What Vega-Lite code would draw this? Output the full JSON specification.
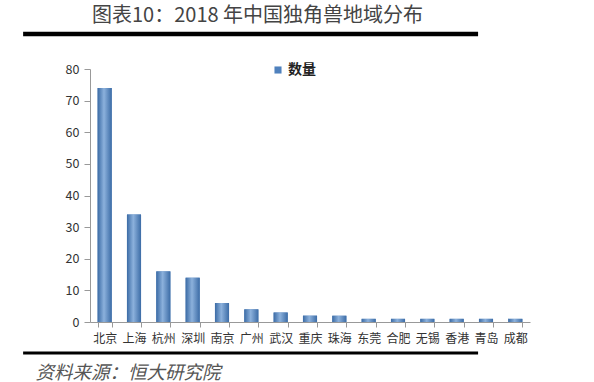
{
  "$schema": "https://vega.github.io/schema/vega-lite/v6.json",
  "width": 440,
  "height": 253,
  "autosize": "none",
  "padding": {"left": 90, "top": 69, "right": 64, "bottom": 60},
  "background": "white",
  "config": {
    "view": {"stroke": null},
    "font": "Noto Sans CJK SC",
    "axisY": {
      "grid": false,
      "title": null,
      "labelFontSize": 12.5,
      "labelColor": "#333",
      "tickSize": 6,
      "tickColor": "#999",
      "domainColor": "#999",
      "labelPadding": 5,
      "labelOverlap": false
    }
  },
  "title": {
    "text": "图表10：2018 年中国独角兽地域分布",
    "anchor": "start",
    "frame": "group",
    "dx": 2,
    "fontSize": 20,
    "fontWeight": "normal",
    "color": "#444",
    "font": "Noto Sans CJK SC",
    "offset": 6
  },
  "layer": [
    {
      "data": {
        "values": [
          {"city": "北京", "count": 74, "series": "数量"},
          {"city": "上海", "count": 34, "series": "数量"},
          {"city": "杭州", "count": 16, "series": "数量"},
          {"city": "深圳", "count": 14, "series": "数量"},
          {"city": "南京", "count": 6, "series": "数量"},
          {"city": "广州", "count": 4, "series": "数量"},
          {"city": "武汉", "count": 3, "series": "数量"},
          {"city": "重庆", "count": 2, "series": "数量"},
          {"city": "珠海", "count": 2, "series": "数量"},
          {"city": "东莞", "count": 1, "series": "数量"},
          {"city": "合肥", "count": 1, "series": "数量"},
          {"city": "无锡", "count": 1, "series": "数量"},
          {"city": "香港", "count": 1, "series": "数量"},
          {"city": "青岛", "count": 1, "series": "数量"},
          {"city": "成都", "count": 1, "series": "数量"}
        ]
      },
      "encoding": {
        "x": {
          "field": "city",
          "type": "nominal",
          "sort": null,
          "scale": {"paddingInner": 0.52, "paddingOuter": 0.26},
          "axis": {
            "labelAngle": 0,
            "labelFontSize": 12,
            "labelColor": "#333",
            "labelPadding": 6,
            "tickBand": "extent",
            "tickSize": 5,
            "tickColor": "#999",
            "domainColor": "#999",
            "title": "资料来源：恒大研究院",
            "titleAnchor": "start",
            "titleAlign": "left",
            "titleBaseline": "middle",
            "titleX": -55,
            "titleY": 50,
            "titleFontSize": 18.5,
            "titleFontWeight": "normal",
            "titleFontStyle": "italic",
            "titleColor": "#555"
          }
        },
        "y": {
          "field": "count",
          "type": "quantitative",
          "scale": {"domain": [0, 80], "nice": false},
          "axis": {"values": [0, 10, 20, 30, 40, 50, 60, 70, 80]}
        }
      },
      "layer": [
        {
          "mark": {"type": "bar"},
          "encoding": {
            "fill": {
              "field": "series",
              "type": "nominal",
              "scale": {"range": ["#4f81bd"]},
              "legend": {
                "title": null,
                "orient": "none",
                "legendX": 181,
                "legendY": -6,
                "symbolType": "square",
                "symbolSize": 50,
                "labelFontSize": 14,
                "labelFontWeight": "bold",
                "labelColor": "#222",
                "labelOffset": 3
              }
            }
          }
        },
        {
          "mark": {
            "type": "bar",
            "color": {
              "gradient": "linear",
              "x1": 0, "y1": 0, "x2": 1, "y2": 0,
              "stops": [
                {"offset": 0, "color": "#3b6ba5"},
                {"offset": 0.45, "color": "#8cb1dc"},
                {"offset": 1, "color": "#3c6ca6"}
              ]
            }
          }
        }
      ]
    },
    {
      "data": {"values": [{}]},
      "mark": {"type": "rule", "color": "black", "strokeWidth": 4.5, "clip": false},
      "encoding": {
        "x": {"datum": -0.152, "type": "quantitative", "scale": {"domain": [0, 1]}, "axis": null},
        "x2": {"datum": 0.882},
        "y": {"datum": 91.1, "type": "quantitative", "axis": {"values": [0, 10, 20, 30, 40, 50, 60, 70, 80]}}
      }
    },
    {
      "data": {"values": [{}]},
      "mark": {"type": "rule", "color": "black", "strokeWidth": 3, "clip": false},
      "encoding": {
        "x": {"datum": -0.152, "type": "quantitative", "scale": {"domain": [0, 1]}, "axis": null},
        "x2": {"datum": 0.882},
        "y": {"datum": -9.8, "type": "quantitative", "axis": {"values": [0, 10, 20, 30, 40, 50, 60, 70, 80]}}
      }
    }
  ],
  "resolve": {"scale": {"x": "independent"}}
}
